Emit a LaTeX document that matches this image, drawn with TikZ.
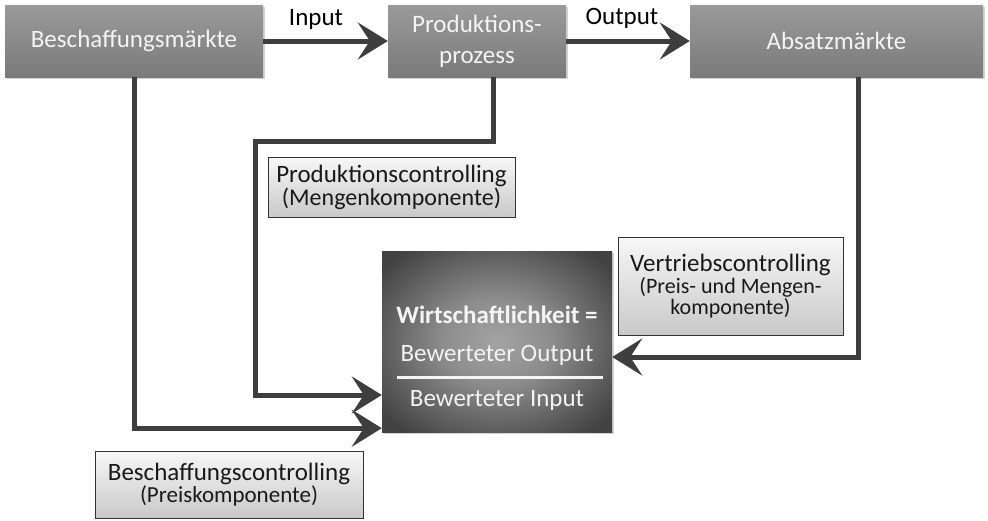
\documentclass[tikz,border=0pt]{standalone}
\usepackage{fontspec}
\setmainfont{Carlito}
\usetikzlibrary{arrows.meta,calc,shadows}
\definecolor{conncol}{HTML}{3E3E3E}
\definecolor{boxtop}{HTML}{9A9A9A}
\definecolor{boxbot}{HTML}{7A7A7A}
\definecolor{ctrltop}{HTML}{F7F7F7}
\definecolor{ctrlbot}{HTML}{C9C9C9}
\definecolor{boxtext}{HTML}{F4F4F4}
\pgfdeclareradialshading{wkshade}{\pgfpoint{0bp}{0bp}}{rgb(0bp)=(0.64,0.64,0.64); rgb(12bp)=(0.55,0.55,0.55); rgb(25bp)=(0.36,0.36,0.36); rgb(32bp)=(0.26,0.26,0.26); rgb(50bp)=(0.24,0.24,0.24)}
\begin{document}
\begin{tikzpicture}[x=1pt,y=-1pt,
  bigfont/.style={font=\fontsize{25}{31}\selectfont},
  topbox/.style={bigfont, top color=boxtop, bottom color=boxbot, draw=none,
    text=boxtext, align=center, minimum height=72pt, inner sep=0pt,
    drop shadow={opacity=0.35, shadow xshift=2pt, shadow yshift=-2pt}},
  ctrlbox/.style={top color=ctrltop, bottom color=ctrlbot, draw=black!80, line width=0.8pt,
    align=center, inner sep=0pt, text=black!90},
  wkbox/.style={shading=wkshade, draw=none, minimum width=230pt, minimum height=181pt, inner sep=0pt,
    drop shadow={opacity=0.35, shadow xshift=2pt, shadow yshift=-2pt}},
  wtext/.style={bigfont, text=boxtext, inner sep=0pt},
  lbl/.style={bigfont, text=black, inner sep=0pt},
  connector/.style={line width=5pt, draw=conncol,
    -{Stealth[length=30pt,width=37pt,inset=12pt,fill=conncol]}},
  line/.style={line width=5pt, draw=conncol}
]
\useasboundingbox (0,0) rectangle (988,520);

% top boxes
\node[topbox, minimum width=258pt] (bm) at (134,41) {Beschaffungsmärkte};
\node[topbox, minimum width=178pt] (pp) at (477,41) {Produktions-\\prozess};
\node[topbox, minimum width=293pt] (am) at (836.5,41) {Absatzmärkte};

% central box
\node[wkbox] (wk) at (497,341.5) {};
\node[wtext] (w1) at (497,315) {\textbf{Wirtschaftlichkeit =}};
\node[wtext] (w2) at (497,355) {Bewerteter Output};
\node[wtext] (w3) at (497,400) {Bewerteter Input};
\draw[boxtext, line width=3pt] (397,377) -- (603,377);

% controlling boxes
\node[ctrlbox, minimum width=247pt, minimum height=60pt] (pc) at (391.5,187)
  {\fontsize{25}{27}\selectfont Produktionscontrolling\\\fontsize{24}{27}\selectfont (Mengenkomponente)};
\node[ctrlbox, minimum width=225pt, minimum height=98pt] (vc) at (730.5,286)
  {\fontsize{25}{27}\selectfont Vertriebscontrolling\\\fontsize{22}{27}\selectfont (Preis- und Mengen-\\\fontsize{22}{26}\selectfont komponente)};
\node[ctrlbox, minimum width=268pt, minimum height=67pt] (bc) at (229,484.5)
  {\fontsize{25}{28}\selectfont Beschaffungscontrolling\\\fontsize{23}{28}\selectfont (Preiskomponente)};

% labels
\node[lbl] (inlab) at (316,19) {Input};
\node[lbl] (outlab) at (622,18) {Output};

% connectors
\draw[connector] (bm.east) -- (pp.west);
\draw[connector] (pp.east) -- (am.west);
\draw[connector] (bm.south) |- ($(wk.south west)+(0,-4)$);
\coordinate (pbend) at (255,141);
\draw[connector] ($(pp.south)+(16,0)$) |- (pbend) |- ($(wk.west)+(0,53.5)$);
\draw[connector] ($(am.south)+(21.5,0)$) |- ($(wk.east)+(0,15.5)$);
\end{tikzpicture}
\end{document}
